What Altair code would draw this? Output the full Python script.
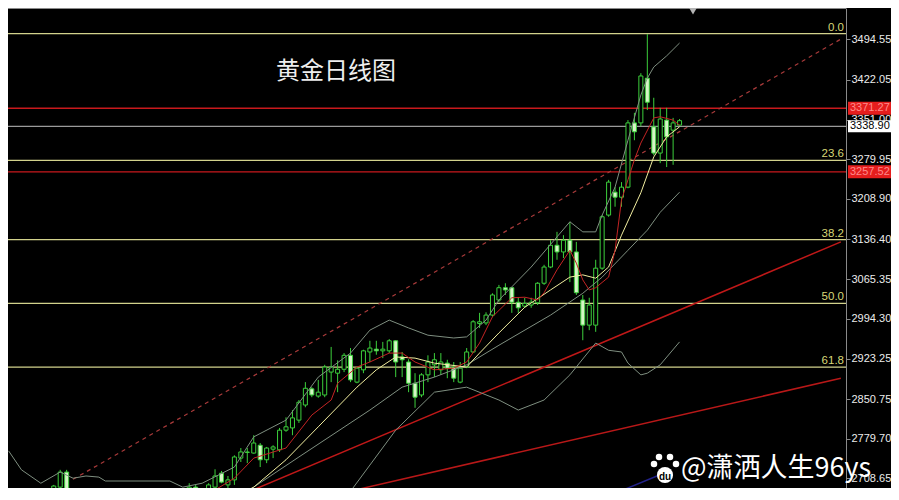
import altair as alt
import pandas as pd

# ---------------- candle data (daily) ----------------
idx = list(range(99))
opens = [2652, 2660, 2693, 2720, 2679, 2652, 2638, 2625, 2642, 2633,
         2610, 2622, 2635, 2628, 2615, 2600, 2612, 2625, 2640, 2650,
         2642, 2645, 2661, 2693, 2661, 2675, 2693, 2718, 2697, 2706,
         2745, 2755, 2754, 2768, 2742, 2761, 2760, 2795, 2799, 2813,
         2840, 2869, 2856, 2858, 2899, 2897, 2904, 2929, 2881, 2903,
         2935, 2940, 2937, 2937, 2955, 2926, 2917, 2879, 2858, 2894,
         2912, 2903, 2915, 2908, 2881, 2908, 2935, 2986, 2987, 3001,
         3028, 3050, 3050, 3024, 3017, 3019, 3023, 3058, 3087, 3126,
         3114, 3135, 3114, 3028, 2983, 2983, 3085, 3180, 3221, 3212,
         3230, 3345, 3345, 3425, 3338, 3291, 3350, 3332, 3341]
highs = [2679, 2697, 2724, 2724, 2691, 2662, 2650, 2648, 2655, 2645,
         2630, 2640, 2648, 2638, 2625, 2618, 2630, 2645, 2655, 2662,
         2665, 2675, 2700, 2697, 2682, 2700, 2725, 2722, 2713, 2750,
         2763, 2763, 2786, 2772, 2765, 2768, 2799, 2818, 2831, 2849,
         2881, 2872, 2885, 2912, 2944, 2920, 2933, 2942, 2908, 2939,
         2955, 2955, 2953, 2958, 2956, 2935, 2922, 2897, 2897, 2929,
         2933, 2933, 2921, 2917, 2917, 2942, 2992, 3005, 3006, 3040,
         3055, 3058, 3051, 3032, 3032, 3032, 3060, 3091, 3135, 3150,
         3144, 3168, 3132, 3037, 3032, 3100, 3180, 3243, 3230, 3239,
         3350, 3363, 3434, 3504, 3390, 3372, 3372, 3354, 3352]
lows = [2640, 2650, 2688, 2675, 2643, 2630, 2615, 2620, 2628, 2600,
        2595, 2612, 2625, 2605, 2590, 2585, 2605, 2618, 2630, 2635,
        2638, 2638, 2652, 2650, 2655, 2670, 2691, 2700, 2688, 2697,
        2738, 2736, 2753, 2729, 2736, 2745, 2756, 2792, 2786, 2808,
        2836, 2854, 2853, 2854, 2881, 2863, 2899, 2881, 2879, 2897,
        2917, 2930, 2924, 2933, 2890, 2890, 2863, 2835, 2854, 2881,
        2890, 2894, 2888, 2881, 2879, 2906, 2933, 2978, 2983, 2998,
        3024, 3037, 3005, 3005, 3014, 3014, 3019, 3055, 3085, 3100,
        3103, 3060, 3037, 2956, 2974, 2971, 3082, 3177, 3195, 3195,
        3228, 3314, 3339, 3368, 3287, 3273, 3266, 3270, 3339]
closes = [2672, 2695, 2720, 2679, 2652, 2638, 2625, 2642, 2633, 2610,
          2622, 2635, 2628, 2615, 2600, 2612, 2625, 2640, 2650, 2642,
          2658, 2662, 2693, 2661, 2679, 2697, 2713, 2702, 2706, 2747,
          2756, 2756, 2772, 2742, 2763, 2765, 2795, 2801, 2817, 2845,
          2870, 2858, 2863, 2908, 2908, 2904, 2929, 2885, 2906, 2937,
          2942, 2937, 2940, 2955, 2917, 2921, 2879, 2854, 2894, 2917,
          2921, 2917, 2906, 2888, 2906, 2935, 2989, 2989, 3001, 3037,
          3050, 3046, 3024, 3014, 3022, 3024, 3058, 3087, 3126, 3114,
          3135, 3114, 3041, 2983, 3019, 3085, 3177, 3239, 3212, 3230,
          3345, 3329, 3429, 3382, 3291, 3352, 3320, 3345, 3349]

# ---------------- indicator lines ----------------
upper_i = [-6, -4, -1, 2, 4, 6, 8, 9, 19, 21, 24, 29, 32, 37, 42, 47, 50, 53,
           56, 59, 63, 65, 68, 70, 75, 79, 81, 83, 85, 86, 88, 90, 92, 93, 94, 96, 98]
upper_v = [2758, 2724, 2700, 2720, 2709, 2713, 2711, 2704, 2704, 2693, 2700, 2729,
           2783, 2813, 2890, 2933, 2974, 2992, 2978, 2965, 2960, 2962, 2992, 3028,
           3087, 3141, 3168, 3150, 3150, 3180, 3230, 3314, 3395, 3425, 3445, 3465, 3488]
mid_i = [29, 39, 50, 55, 60, 65, 70, 78, 83, 86, 90, 93, 95, 98]
mid_v = [2670, 2747, 2831, 2872, 2890, 2912, 2947, 3001, 3040, 3069, 3117, 3153, 3185, 3221]
low_i = [46, 54, 60, 65, 70, 73, 77, 81, 85, 87, 89, 90, 92, 93, 95, 98]
low_v = [2670, 2795, 2863, 2872, 2849, 2831, 2849, 2894, 2951, 2938, 2935, 2915,
         2894, 2897, 2912, 2953]
red_i = [-1, 1, 2, 4, 5, 7, 20, 24, 26, 29, 32, 37, 41, 44, 45, 48, 50, 53, 55, 57,
         60, 63, 65, 67, 69, 72, 74, 76, 77, 79, 81, 82, 83, 84, 85, 87, 88, 89, 90,
         91, 92, 94, 95, 97, 98]
red_v = [2662, 2679, 2683, 2681, 2674, 2655, 2650, 2670, 2688, 2709, 2745, 2763, 2822,
         2849, 2879, 2908, 2917, 2933, 2933, 2917, 2903, 2906, 2917, 2951, 2998, 3032,
         3033, 3028, 3041, 3082, 3117, 3094, 3064, 3046, 3050, 3069, 3117, 3207, 3243,
         3279, 3309, 3354, 3356, 3350, 3341]
yel_i = [28, 32, 37, 42, 48, 51, 54, 57, 60, 65, 67, 70, 74, 78, 81, 83, 85, 87, 89,
         92, 94, 96, 98]
yel_v = [2670, 2693, 2742, 2801, 2872, 2903, 2926, 2924, 2915, 2908, 2933, 2969, 3015,
         3046, 3069, 3073, 3067, 3087, 3144, 3220, 3284, 3320, 3338]
navy_i = [88, 96]
navy_v = [2682, 2720]

dash_i = [4, 123]
dash_v = [2707, 3495]
trendA_i = [28, 123]
trendA_v = [2669, 3132]
trendB_i = [41, 123]
trendB_v = [2670, 2888]

fib_prices = [3504.7, 3278.0, 3136.0, 3022.0, 2908.0]
fib_labels = ["0.0", "23.6", "38.2", "50.0", "61.8"]
red_levels = [3371.27, 3257.52]
last_price = [3338.90]
axis_ticks = [3494.55, 3422.05, 3351.00, 3279.95, 3208.90, 3136.40,
              3065.35, 2994.30, 2923.25, 2850.75, 2779.70, 2708.65]

title_text = "黄金日线图"
watermark = "@潇洒人生96ys"

# ---------------- chart ----------------
W, H = 838, 480
xs = alt.Scale(domain=[-5.314, 123.02], nice=False, zero=False)
ys = alt.Scale(domain=[2691.48, 3550.68], nice=False, zero=False)
yaxis = alt.Axis(orient="right", values=axis_ticks, format=".2f", title=None,
                 grid=False, domainColor="#8a8a8a", tickColor="#8a8a8a", tickSize=4,
                 labelColor="#ececec", labelFont="Liberation Sans", labelFontSize=11,
                 labelPadding=1, labelFlush=False, labelOverlap=False, labelBound=False)


def X(f):
    return alt.X(f, type="quantitative", scale=xs, axis=None)


def Y(f):
    return alt.Y(f, type="quantitative", scale=ys, axis=yaxis)


candles = pd.DataFrame({"i": idx, "o": opens, "h": highs, "l": lows, "c": closes})


def line_df(ii, vv):
    return pd.DataFrame({"i": ii, "v": vv})


def line(ii, vv, color, width=1.0, dash=None):
    kw = dict(clip=True, color=color, strokeWidth=width)
    if dash:
        kw["strokeDash"] = dash
    return alt.Chart(line_df(ii, vv)).mark_line(**kw).encode(x=X("i"), y=Y("v"))


layers = []

# top border and small marker
layers.append(alt.Chart(pd.DataFrame({"a": [0]})).mark_rule(color="#8a8a8a", strokeWidth=1).encode(
    x=alt.value(0), x2=alt.value(W), y=alt.value(0.5)))
layers.append(alt.Chart(pd.DataFrame({"a": [0]})).mark_point(
    shape="triangle-down", filled=True, size=70, color="#b4b4b4", opacity=1).encode(
    x=alt.value(685), y=alt.value(3)))

# horizontal levels
fib_df = pd.DataFrame({"p": fib_prices, "t": fib_labels})
layers.append(alt.Chart(fib_df).mark_rule(color="#d2d28c", strokeWidth=1.3).encode(y=Y("p")))
layers.append(alt.Chart(pd.DataFrame({"p": red_levels})).mark_rule(
    color="#c8191c", strokeWidth=1.3).encode(y=Y("p")))
layers.append(alt.Chart(pd.DataFrame({"p": last_price})).mark_rule(
    color="#9a9a9a", strokeWidth=1.2).encode(y=Y("p")))

# trend lines
layers.append(line(dash_i, dash_v, "#a83a3a", 1.2, [4, 4]))
layers.append(line(trendA_i, trendA_v, "#c01818", 1.5))
layers.append(line(trendB_i, trendB_v, "#b81818", 1.5))
layers.append(line(navy_i, navy_v, "#22228a", 1.5))

# candles
layers.append(alt.Chart(candles).mark_rule(color="#3ccf3c", strokeWidth=1, clip=True).encode(
    x=X("i"), y=Y("l"), y2="h"))
layers.append(alt.Chart(candles).mark_bar(size=4, stroke="#3ccf3c", strokeWidth=1, clip=True).encode(
    x=X("i"), y=Y("o"), y2="c",
    fill=alt.condition("datum.c >= datum.o", alt.value("#000000"), alt.value("#d6f5c6"))))

# indicators
layers.append(line(upper_i, upper_v, "#7f8f80", 1.0))
layers.append(line(mid_i, mid_v, "#7f8f80", 1.0))
layers.append(line(low_i, low_v, "#7f8f80", 1.0))
layers.append(line(yel_i, yel_v, "#f2eea0", 1.0))
layers.append(line(red_i, red_v, "#c42424", 1.0))

# fib labels
layers.append(alt.Chart(fib_df).mark_text(align="right", baseline="bottom", dy=-1,
                                           color="#d8d878", font="Liberation Sans", fontSize=11.5).encode(
    x=alt.value(W - 2), y=Y("p"), text="t:N"))

# price boxes on the axis
box_red = pd.DataFrame({"p": red_levels, "t": [f"{v:.2f}" for v in red_levels]})
box_last = pd.DataFrame({"p": last_price, "t": [f"{v:.2f}" for v in last_price]})
layers.append(alt.Chart(box_red).mark_rule(color="#e51d1d", strokeWidth=13, strokeCap="butt").encode(
    x=alt.value(W + 2), x2=alt.value(W + 45), y=Y("p")))
layers.append(alt.Chart(box_red).mark_text(align="left", baseline="middle", color="#ff8a8a",
                                           font="Liberation Sans", fontSize=11).encode(
    x=alt.value(W + 4), y=Y("p"), text="t:N"))
layers.append(alt.Chart(box_last).mark_rule(color="#ffffff", strokeWidth=12, strokeCap="butt").encode(
    x=alt.value(W + 2), x2=alt.value(W + 45), y=Y("p")))
layers.append(alt.Chart(box_last).mark_text(align="left", baseline="middle", color="#000000",
                                            font="Liberation Sans", fontSize=11).encode(
    x=alt.value(W + 4), y=Y("p"), text="t:N"))

# title
layers.append(alt.Chart(pd.DataFrame({"t": [title_text]})).mark_text(
    align="center", baseline="middle", color="#eeeeee", font="Noto Sans CJK SC", fontSize=24).encode(
    x=alt.value(328), y=alt.value(64), text="t:N"))

# watermark with paw logo
paw = pd.DataFrame({"px": [646, 651, 662, 668, 657], "py": [456, 449, 449, 456, 467],
                    "s": [42, 42, 42, 42, 260]})
layers.append(alt.Chart(paw).mark_point(filled=True, color="#ffffff", opacity=1, shape="circle").encode(
    x=alt.X("px:Q", scale=None), y=alt.Y("py:Q", scale=None), size=alt.Size("s:Q", scale=None, legend=None)))
layers.append(alt.Chart(pd.DataFrame({"t": ["du"]})).mark_text(
    align="center", baseline="middle", color="#000000", font="Liberation Sans", fontSize=10,
    fontWeight="bold").encode(x=alt.value(657), y=alt.value(469), text="t:N"))
layers.append(alt.Chart(pd.DataFrame({"t": [watermark]})).mark_text(
    align="left", baseline="middle", color="#ffffff", font="Noto Sans CJK SC", fontSize=27).encode(
    x=alt.value(673), y=alt.value(461), text="t:N"))

chart = alt.layer(*layers).properties(
    width=W, height=H,
    autosize=alt.AutoSizeParams(type="none"),
    padding={"left": 0, "top": 0, "right": 45, "bottom": 0},
    background="#000000",
).configure_view(stroke=None, fill="#000000")

chart.save("out.html", embed_options={"renderer": "svg", "actions": False})
